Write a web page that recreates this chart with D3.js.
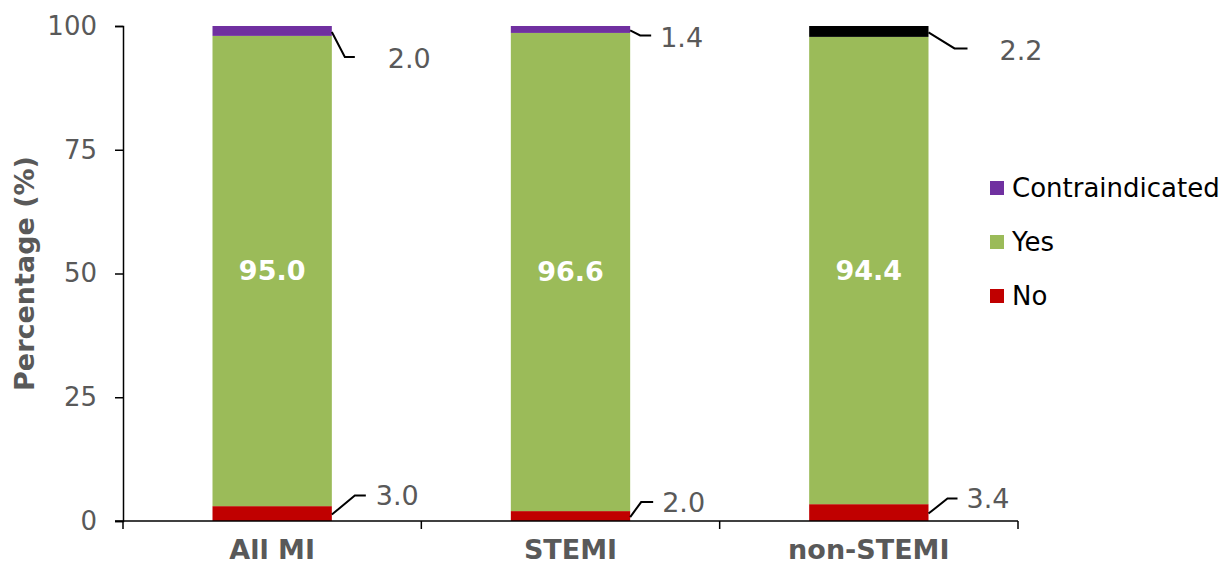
<!DOCTYPE html>
<html>
<head>
<meta charset="utf-8">
<script src="https://cdn.jsdelivr.net/npm/d3@7"></script>
<style>
  body { margin: 0; background: #fff; }
  text { font-family: "DejaVu Sans", Verdana, sans-serif; }
</style>
</head>
<body>
<svg id="chart" width="1223" height="567"></svg>
<script>
// data
const categories = ["All MI", "STEMI", "non-STEMI"];
const noValues = [3.0, 2.0, 3.4];
const yesValues = [95.0, 96.6, 94.4];
const contraValues = [2.0, 1.4, 2.2];
const contraColors = ["#7030A0", "#7030A0", "#000000"];
const yTicks = [0, 25, 50, 75, 100];

// leader line offsets for the small labels (dx1, dy1, dx2, text dx) from bar corner
const topCallouts = [[13, 25, 23, 56], [10, 5, 21, 30], [26, 16, 39, 71]];
const bottomCallouts = [[23, -19, 34, 44], [11, -15, 23, 32], [19, -15, 29, 38]];

const svg = d3.select("#chart");
const m = {left: 123, right: 205, top: 26, bottom: 46};
const W = 1223, H = 567;

const x = d3.scaleBand().domain(categories)
  .range([m.left, W - m.right]).paddingInner(0.6).paddingOuter(0.3);
const y = d3.scaleLinear().domain([0, 100]).range([H - m.bottom, m.top]);
const grey = "#595959";

const rows = categories.map((c, i) => ({
  cat: c, no: noValues[i], yes: yesValues[i], contra: contraValues[i], cc: contraColors[i]
}));

// y axis
const ya = svg.append("g").attr("transform", `translate(${m.left},0)`)
  .call(d3.axisLeft(y).tickValues(yTicks).tickSize(8).tickPadding(18));
ya.select(".domain").attr("stroke", "#000").attr("stroke-width", 1.5);
ya.selectAll(".tick line").attr("stroke", "#000").attr("stroke-width", 1.5);
ya.selectAll(".tick text").attr("fill", grey).style("font-size", "26px")
  .style("font-family", "DejaVu Sans, Verdana, sans-serif");

svg.append("text")
  .attr("transform", `translate(34,${y(50)}) rotate(-90)`)
  .attr("text-anchor", "middle")
  .attr("fill", grey).style("font-size", "27px").style("font-weight", "bold")
  .text("Percentage (%)");

// bars
const bw = x.bandwidth();
const g = svg.append("g");
rows.forEach(d => {
  const x0 = x(d.cat);
  g.append("rect").attr("x", x0).attr("width", bw)
    .attr("y", y(d.no)).attr("height", y(0) - y(d.no)).attr("fill", "#C00000");
  g.append("rect").attr("x", x0).attr("width", bw)
    .attr("y", y(d.no + d.yes)).attr("height", y(d.no) - y(d.no + d.yes)).attr("fill", "#9BBB59");
  g.append("rect").attr("x", x0).attr("width", bw)
    .attr("y", y(100)).attr("height", y(d.no + d.yes) - y(100)).attr("fill", d.cc);
  g.append("text").attr("x", x0 + bw / 2).attr("y", y(d.no + d.yes / 2))
    .attr("dy", "0.35em").attr("text-anchor", "middle")
    .attr("fill", "#fff").style("font-size", "27px").style("font-weight", "bold")
    .text(d.yes.toFixed(1));
});

// callouts
rows.forEach((d, i) => {
  const xr = x(d.cat) + bw;
  const [a1, b1, a2, t] = topCallouts[i];
  const yt = y(d.no + d.yes + d.contra / 2) + 1;
  g.append("path").attr("fill", "none").attr("stroke", "#000").attr("stroke-width", 2)
    .attr("d", `M${xr},${yt}L${xr + a1},${yt + b1}L${xr + a2},${yt + b1}`);
  g.append("text").attr("x", xr + t).attr("y", yt + b1 + 2).attr("dy", "0.35em")
    .attr("fill", grey).style("font-size", "27px").text(d.contra.toFixed(1));

  const [c1, e1, c2, u] = bottomCallouts[i];
  const yb = y(d.no / 2) + 1;
  g.append("path").attr("fill", "none").attr("stroke", "#000").attr("stroke-width", 2)
    .attr("d", `M${xr},${yb}L${xr + c1},${yb + e1}L${xr + c2},${yb + e1}`);
  g.append("text").attr("x", xr + u).attr("y", yb + e1).attr("dy", "0.35em")
    .attr("fill", grey).style("font-size", "27px").text(d.no.toFixed(1));
});

// x axis
const xa = svg.append("g").attr("transform", `translate(0,${y(0)})`);
xa.append("line").attr("x1", m.left - 8).attr("x2", W - m.right)
  .attr("stroke", "#000").attr("stroke-width", 1.5);
const step = x.step();
d3.range(categories.length + 1).forEach(k => {
  const xx = m.left + k * step;
  xa.append("line").attr("x1", xx).attr("x2", xx).attr("y1", 0).attr("y2", 8)
    .attr("stroke", "#000").attr("stroke-width", 1.5);
});
categories.forEach(c => {
  xa.append("text").attr("x", x(c) + bw / 2).attr("y", 38)
    .attr("text-anchor", "middle").attr("fill", grey)
    .style("font-size", "27px").style("font-weight", "bold").text(c);
});

// legend
const legend = [["Contraindicated", "#7030A0"], ["Yes", "#9BBB59"], ["No", "#C00000"]];
const lg = svg.append("g").attr("transform", "translate(990,188)");
legend.forEach((l, i) => {
  const row = lg.append("g").attr("transform", `translate(0,${i * 54})`);
  row.append("rect").attr("x", 0).attr("y", -7).attr("width", 14).attr("height", 14).attr("fill", l[1]);
  row.append("text").attr("x", 22).attr("y", 0).attr("dy", "0.35em")
    .attr("fill", "#000").style("font-size", "26px").text(l[0]);
});
</script>
</body>
</html>
